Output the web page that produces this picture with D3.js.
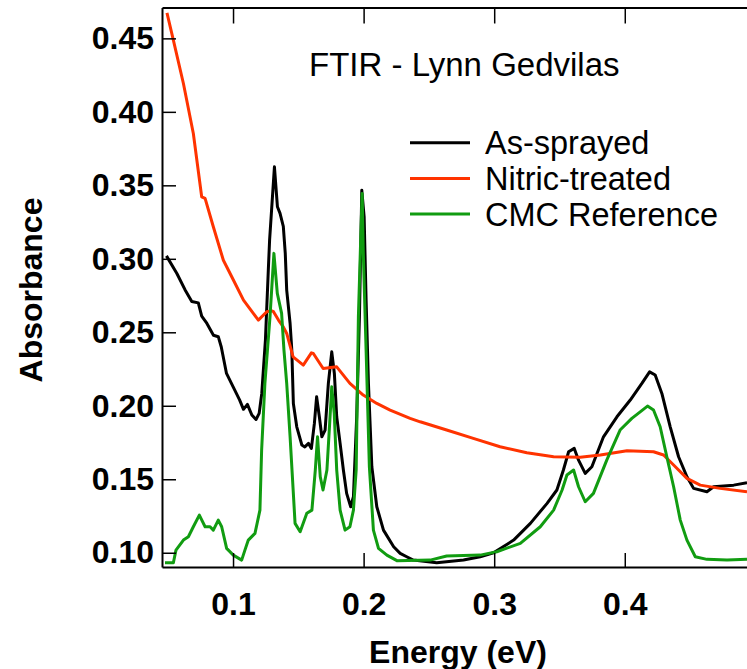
<!DOCTYPE html>
<meta charset="utf-8">
<script src="https://d3js.org/d3.v7.min.js"></script>
<style>
  body { margin: 0; background: #fff; }
  text { font-family: "Liberation Sans", Arial, sans-serif; }
</style>
<div id="my_dataviz"></div>
<script>

// data: [energy (eV), absorbance]
var asSprayed = [
  [0.049,0.302],[0.057,0.290],[0.0632,0.279],[0.0684,0.271],[0.0734,0.270],[0.076,0.261],
  [0.080,0.256],[0.085,0.248],[0.0887,0.247],[0.091,0.240],[0.095,0.222],[0.100,0.213],
  [0.105,0.204],[0.108,0.1976],[0.111,0.201],[0.1144,0.1937],[0.1176,0.1907],[0.120,0.1948],
  [0.122,0.2084],[0.1248,0.2447],[0.127,0.292],[0.128,0.3127],[0.1317,0.3626],[0.134,0.3354],
  [0.136,0.3309],[0.1385,0.322],[0.140,0.3037],[0.1411,0.2787],[0.1437,0.256],[0.145,0.238],
  [0.1462,0.2016],[0.1488,0.1857],[0.1527,0.1733],[0.155,0.172],[0.1578,0.1744],[0.160,0.171],
  [0.1623,0.188],[0.164,0.2061],[0.1661,0.1925],[0.168,0.1789],[0.1705,0.1835],[0.173,0.2152],
  [0.1756,0.2367],[0.1776,0.222],[0.1794,0.1925],[0.182,0.1744],[0.1845,0.1563],[0.187,0.1404],
  [0.1901,0.1313],[0.1922,0.1381],[0.1947,0.1925],[0.1968,0.2605],[0.1986,0.3467],[0.2004,0.3286],
  [0.2019,0.2719],[0.2037,0.2152],[0.2063,0.1585],[0.2101,0.1313],[0.2152,0.1154],[0.223,0.1041],
  [0.228,0.0996],[0.233,0.0973],[0.238,0.095],[0.256,0.0932],[0.2765,0.095],[0.2893,0.0973],
  [0.2995,0.100],[0.3149,0.1086],[0.3277,0.120],[0.3405,0.1336],[0.348,0.1427],[0.353,0.1563],
  [0.357,0.1687],[0.3613,0.171],[0.3646,0.163],[0.3697,0.154],[0.3748,0.1585],[0.3837,0.1789],
  [0.394,0.1925],[0.4042,0.2039],[0.4131,0.2152],[0.419,0.2231],[0.4233,0.2209],[0.4284,0.2084],
  [0.4348,0.1857],[0.4412,0.1653],[0.4476,0.1517],[0.4527,0.1438],[0.4629,0.1415],[0.468,0.1449],
  [0.4834,0.146],[0.4936,0.1476]
];

var nitric = [
  [0.0494,0.4674],[0.0543,0.4488],[0.062,0.4193],[0.0696,0.3853],[0.076,0.3422],
  [0.0786,0.3411],[0.0849,0.3218],[0.0926,0.299],[0.099,0.2878],[0.108,0.2719],[0.1194,0.2583],
  [0.1258,0.264],[0.1296,0.2646],[0.131,0.264],[0.1348,0.2583],[0.1385,0.2537],[0.1411,0.2492],
  [0.146,0.2333],[0.1538,0.2277],[0.160,0.236],[0.1615,0.2356],[0.169,0.2254],[0.1794,0.2265],
  [0.1895,0.2152],[0.1997,0.2073],[0.2101,0.2016],[0.2203,0.1971],[0.2356,0.1914],[0.2433,0.1891],
  [0.2636,0.1835],[0.284,0.1778],[0.3045,0.1721],[0.325,0.168],[0.3455,0.1653],[0.3659,0.1649],
  [0.3813,0.1665],[0.4017,0.1694],[0.422,0.1687],[0.4297,0.1665],[0.4374,0.1597],[0.4476,0.1506],
  [0.4578,0.146],[0.473,0.1438],[0.4936,0.1415]
];

var cmcReference = [
  [0.0479,0.0932],[0.0543,0.0932],[0.0563,0.1018],[0.062,0.1086],[0.0658,0.1109],[0.0696,0.1177],
  [0.0742,0.1256],[0.0786,0.1177],[0.0824,0.1177],[0.0849,0.1154],[0.0887,0.1222],[0.0913,0.1177],
  [0.0951,0.103],[0.1002,0.0984],[0.1066,0.095],[0.1091,0.1018],[0.1117,0.1086],[0.1168,0.1132],
  [0.1206,0.129],[0.1219,0.1699],[0.1244,0.2152],[0.1283,0.2605],[0.1313,0.3037],[0.1339,0.2765],
  [0.1372,0.2629],[0.139,0.2379],[0.1411,0.2152],[0.1437,0.1789],[0.1475,0.120],[0.1514,0.1143],
  [0.1565,0.1268],[0.1604,0.129],[0.163,0.1563],[0.1647,0.1789],[0.1668,0.1517],[0.1689,0.1427],
  [0.1719,0.1563],[0.174,0.188],[0.1756,0.2129],[0.1775,0.1948],[0.1794,0.1563],[0.182,0.129],
  [0.1858,0.1154],[0.1895,0.1177],[0.1922,0.129],[0.1943,0.1563],[0.196,0.2605],[0.1979,0.3173],
  [0.1989,0.3445],[0.1997,0.3059],[0.2019,0.2379],[0.2044,0.1585],[0.2075,0.1154],[0.2114,0.103],
  [0.2178,0.0984],[0.2255,0.0946],[0.251,0.095],[0.2636,0.0978],[0.2893,0.0984],[0.302,0.1007],
  [0.320,0.1064],[0.3353,0.1177],[0.3455,0.129],[0.352,0.1427],[0.3557,0.1529],[0.3608,0.1563],
  [0.3646,0.1449],[0.3697,0.1347],[0.376,0.1404],[0.3862,0.163],[0.3964,0.1835],[0.4054,0.1914],
  [0.4118,0.1959],[0.4174,0.1998],[0.422,0.1971],[0.4271,0.1857],[0.4322,0.1653],[0.4374,0.1449],
  [0.4425,0.1222],[0.4476,0.1086],[0.454,0.0973],[0.4629,0.0955],[0.4783,0.095],[0.4936,0.0955]
];

var seriesNames = ["As-sprayed", "Nitric-treated", "CMC Reference"];
var seriesColors = ["#000000", "#ff3300", "#119c11"];
var xTicks = [0.1, 0.2, 0.3, 0.4];
var yTicks = [0.10, 0.15, 0.20, 0.25, 0.30, 0.35, 0.40, 0.45];
var chartTitle = "FTIR - Lynn Gedvilas";

var W = 747, H = 669;
// note: "top" is a reserved window property, so use a margin object
var m = {left: 162, top: 7.5, bottom: 567, right: 747};

var svg = d3.select("#my_dataviz")
  .append("svg")
    .attr("width", W)
    .attr("height", H);

var x = d3.scaleLinear()
  .domain([0.0456, 0.4936])
  .range([m.left, m.right]);

var y = d3.scaleLinear()
  .domain([0.0903, 0.471])
  .range([m.bottom, m.top]);

// clip the curves to the plot area
svg.append("clipPath")
    .attr("id", "clip")
  .append("rect")
    .attr("x", m.left)
    .attr("y", m.top)
    .attr("width", m.right - m.left)
    .attr("height", m.bottom - m.top);

var line = d3.line()
  .x(function(d) { return x(d[0]); })
  .y(function(d) { return y(d[1]); });

var plot = svg.append("g").attr("clip-path", "url(#clip)");
[asSprayed, nitric, cmcReference].forEach(function(s, i) {
  plot.append("path")
    .datum(s)
    .attr("d", line)
    .attr("fill", "none")
    .attr("stroke", seriesColors[i])
    .attr("stroke-width", 3)
    .attr("stroke-linejoin", "round");
});

// axes: ticks point inward
var tickLen = 14;
var gx = svg.append("g")
  .attr("transform", "translate(0," + m.bottom + ")")
  .call(d3.axisBottom(x).tickValues(xTicks).tickSizeInner(-tickLen).tickSizeOuter(0)
        .tickPadding(25).tickFormat(d3.format(".1f")));

var gxTop = svg.append("g")
  .attr("transform", "translate(0," + m.top + ")")
  .call(d3.axisTop(x).tickValues(xTicks).tickSizeInner(-16).tickSizeOuter(0)
        .tickFormat(""));

var gy = svg.append("g")
  .attr("transform", "translate(" + m.left + ",0)")
  .call(d3.axisLeft(y).tickValues(yTicks).tickSizeInner(-tickLen).tickSizeOuter(0)
        .tickPadding(8).tickFormat(d3.format(".2f")));

[gx, gxTop, gy].forEach(function(g) {
  g.select(".domain").attr("stroke", "#000").attr("stroke-width", 2);
  g.selectAll(".tick line").attr("stroke", "#000").attr("stroke-width", 1.5);
  g.selectAll(".tick text")
    .attr("fill", "#000")
    .style("font-family", "'Liberation Sans', Arial, sans-serif")
    .style("font-weight", "bold")
    .style("font-size", "32px");
});

// axis titles
svg.append("text")
  .attr("x", 458)
  .attr("y", 663)
  .attr("text-anchor", "middle")
  .style("font-weight", "bold")
  .style("font-size", "32px")
  .text("Energy (eV)");

svg.append("text")
  .attr("transform", "translate(42,290) rotate(-90)")
  .attr("text-anchor", "middle")
  .style("font-weight", "bold")
  .style("font-size", "32px")
  .text("Absorbance");

// title
svg.append("text")
  .attr("x", 309)
  .attr("y", 76)
  .style("font-size", "33px")
  .text(chartTitle);

// legend
var legend = svg.append("g");
seriesNames.forEach(function(name, i) {
  var ly = 142.7 + i * 35.7;
  legend.append("line")
    .attr("x1", 410).attr("x2", 470)
    .attr("y1", ly).attr("y2", ly)
    .attr("stroke", seriesColors[i])
    .attr("stroke-width", 3);
  legend.append("text")
    .attr("x", 485)
    .attr("y", ly + 11.5)
    .style("font-size", "32.5px")
    .text(name);
});

</script>
